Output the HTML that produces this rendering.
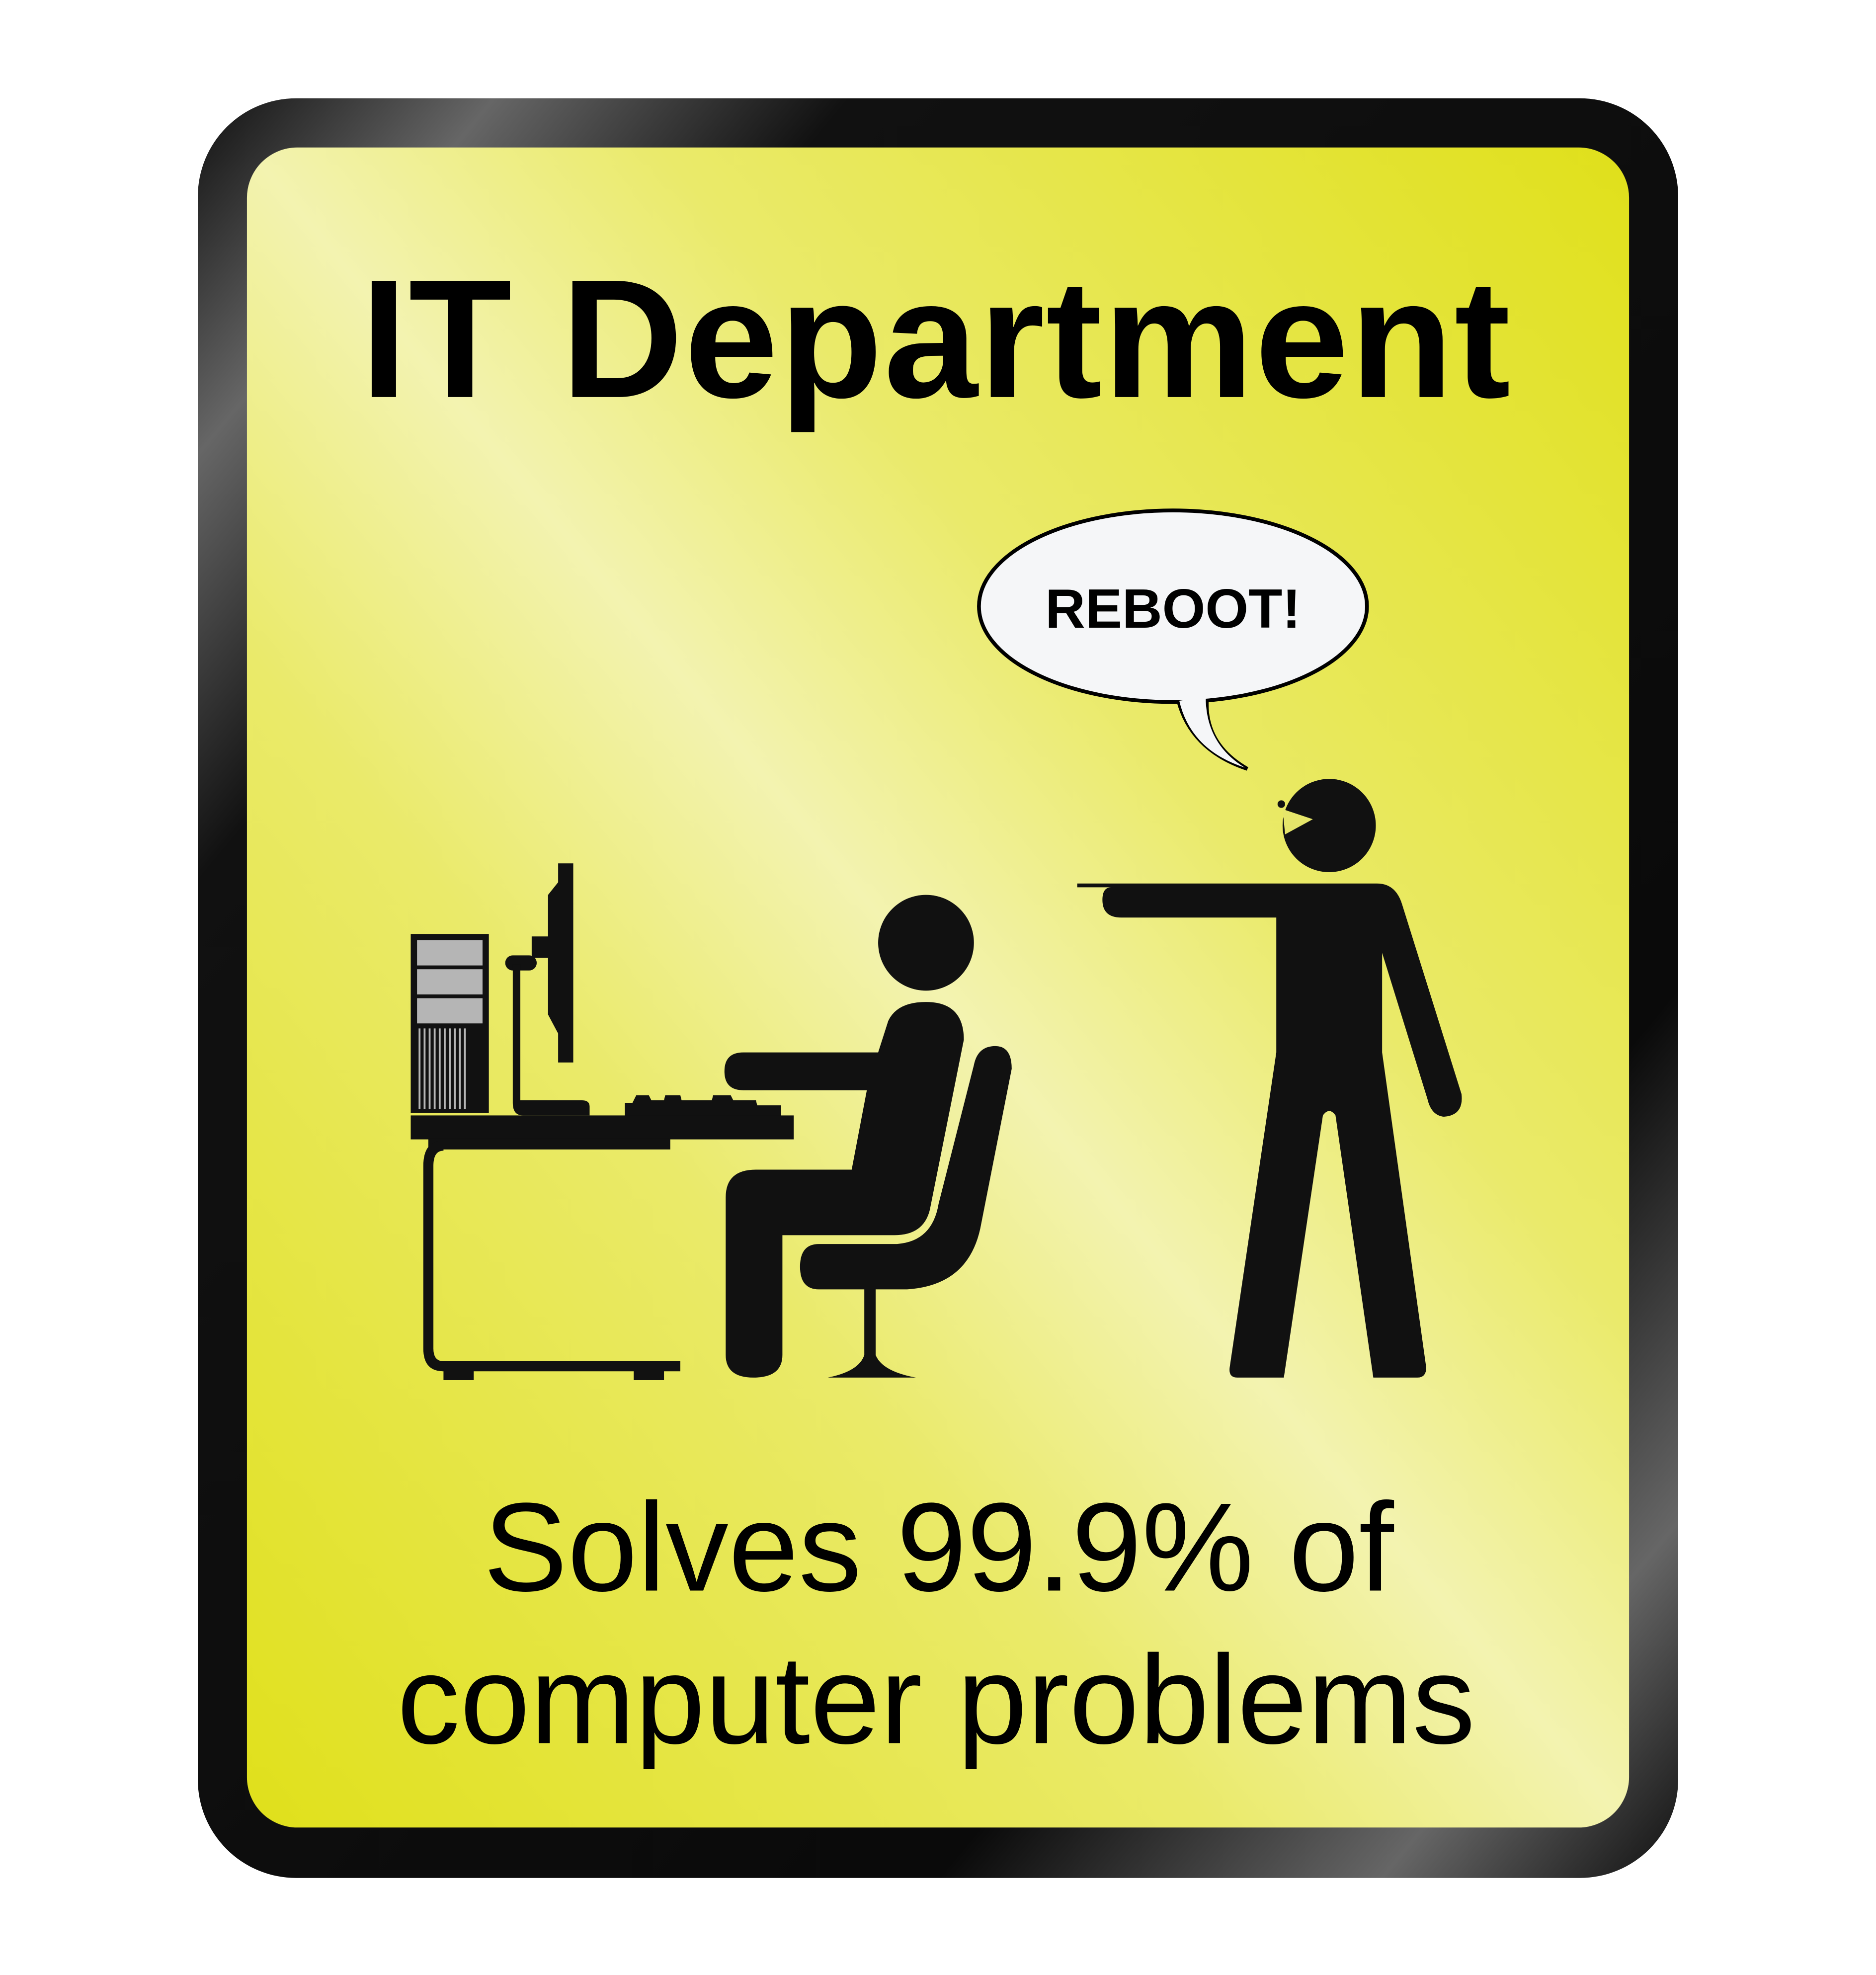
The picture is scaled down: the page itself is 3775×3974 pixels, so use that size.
<!DOCTYPE html>
<html><head><style>html,body{margin:0;padding:0;background:#fff;}svg{display:block}</style></head>
<body>
<svg width="3775" height="3974" viewBox="0 0 1489 1567" preserveAspectRatio="none" xmlns="http://www.w3.org/2000/svg">
<defs>
<linearGradient id="fr" x1="0" y1="0" x2="1" y2="1">
<stop offset="0" stop-color="#111"/><stop offset="0.1" stop-color="#666"/><stop offset="0.22" stop-color="#111"/><stop offset="0.75" stop-color="#0a0a0a"/><stop offset="0.9" stop-color="#666"/><stop offset="1" stop-color="#111"/>
</linearGradient>
<linearGradient id="yl" x1="1" y1="0" x2="0" y2="1">
<stop offset="0" stop-color="#e0e01a"/><stop offset="0.35" stop-color="#eaea6a"/><stop offset="0.5" stop-color="#f3f3b0"/><stop offset="0.65" stop-color="#eaea6a"/><stop offset="1" stop-color="#e0e01a"/>
</linearGradient>
</defs>
<rect x="157" y="78" width="1175" height="1412" rx="78" fill="url(#fr)"/>
<rect x="196" y="117" width="1097" height="1333" rx="40" fill="url(#yl)"/>
<text x="743" y="315" text-anchor="middle" font-family="Liberation Sans, sans-serif" font-weight="bold" font-size="134" letter-spacing="1">IT Department</text>
<text x="745" y="1262" text-anchor="middle" font-family="Liberation Sans, sans-serif" font-size="100">Solves 99.9% of</text>
<text x="743" y="1383" text-anchor="middle" font-family="Liberation Sans, sans-serif" font-size="100">computer problems</text>
<path d="M935,555 Q945,595 990,610 Q955,590 958,553 Z" fill="#f5f6f8" stroke="#000" stroke-width="3"/>
<ellipse cx="931" cy="481" rx="154" ry="76" fill="#f5f6f8" stroke="#000" stroke-width="3"/>
<path d="M936,556 Q945,595 988,609 Q957,590 957,553" fill="#f5f6f8"/>
<text x="931" y="498" text-anchor="middle" font-family="Liberation Sans, sans-serif" font-weight="bold" font-size="44">REBOOT!</text>
<rect x="326" y="741" width="62" height="142" fill="#111"/>
<rect x="331" y="746" width="52" height="20" fill="#b5b5b5"/>
<rect x="331" y="769" width="52" height="20" fill="#b5b5b5"/>
<rect x="331" y="792" width="52" height="20" fill="#b5b5b5"/>
<g stroke="#b5b5b5" stroke-width="1.5">
<line x1="333" y1="816" x2="333" y2="880"/><line x1="337" y1="816" x2="337" y2="880"/><line x1="341" y1="816" x2="341" y2="880"/><line x1="345" y1="816" x2="345" y2="880"/><line x1="349" y1="816" x2="349" y2="880"/><line x1="353" y1="816" x2="353" y2="880"/><line x1="357" y1="816" x2="357" y2="880"/><line x1="361" y1="816" x2="361" y2="880"/><line x1="365" y1="816" x2="365" y2="880"/><line x1="369" y1="816" x2="369" y2="880"/></g>
<path d="M443,685 H455 V843 H443 V820 L435,805 V760 H422 V743 H435 V710 L443,700 Z" fill="#111"/>
<rect x="401" y="758" width="25" height="12" rx="6" fill="#111"/>
<path d="M407,765 V875 Q407,885 415,885 H468 V878 Q468,873 462,873 H413 V765 Z" fill="#111"/>
<path d="M496,875 H502 L505,869 H515 L517,873 H527 L528,869 H540 L541,873 H565 L566,869 H580 L582,873 H600 L601,877 H620 V886 H496 Z" fill="#111"/>
<rect x="326" y="885" width="304" height="19" fill="#111"/>
<rect x="340" y="903" width="192" height="9" fill="#111"/>
<path d="M352,905 Q336,905 336,925 V1070 Q336,1088 352,1088 H540 V1080 H352 Q344,1080 344,1070 V925 Q344,913 352,913 Z" fill="#111"/>
<rect x="352" y="1086" width="24" height="9" fill="#111"/>
<rect x="503" y="1086" width="24" height="9" fill="#111"/>
<ellipse cx="735" cy="748" rx="38" ry="38" fill="#111"/>
<path d="M575,850 Q575,835 590,835 H697 L705,810 Q712,795 735,795 Q765,795 765,825 L738,960 Q733,980 710,980 H621 V1075 Q621,1093 598,1093 Q576,1093 576,1075 V950 Q576,928 600,928 H676 L688,865 H590 Q575,865 575,850 Z" fill="#111"/>
<path d="M790,830 Q803,830 803,848 L778,975 Q768,1020 720,1023 H695 V1075 Q700,1088 727,1093 H657 Q682,1088 686,1075 V1023 H650 Q635,1023 635,1005 Q635,987 650,987 H712 Q740,985 745,955 L773,845 Q776,830 790,830 Z" fill="#111"/>
<circle cx="1055" cy="655" r="37" fill="#111"/>
<path d="M1018,642 L1042,650 L1020,662 Z" fill="#e6e66a"/>
<circle cx="1017" cy="638" r="3" fill="#111"/>
<path d="M855,701 H1093 Q1108,701 1113,718 L1160,868 Q1162,885 1146,886 Q1136,885 1133,872 L1097,756 V835 L1132,1085 Q1132,1093 1125,1093 H1090 L1060,885 Q1055,878 1050,885 L1019,1093 H982 Q975,1093 976,1085 L1013,835 V728 H890 Q875,728 875,714 Q875,704 882,704 H855 Z" fill="#111"/>
</svg>
</body></html>
